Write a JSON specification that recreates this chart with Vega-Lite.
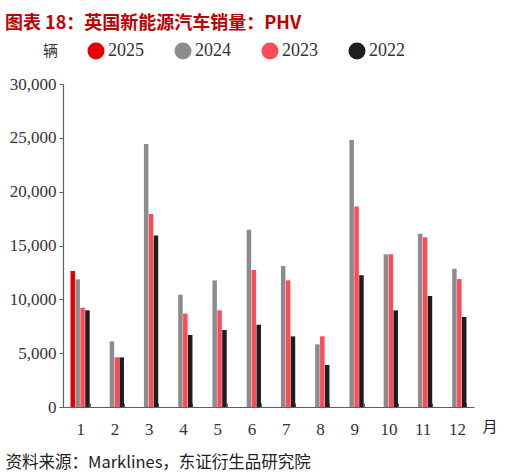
{
  "$schema": "https://vega.github.io/schema/vega-lite/v6.json",
  "autosize": "none",
  "width": 411,
  "height": 323,
  "padding": {"left": 63, "top": 84, "right": 43, "bottom": 68},
  "background": "white",
  "title": {
    "text": "图表 18：英国新能源汽车销量：PHV",
    "anchor": "start",
    "frame": "group",
    "dx": -58,
    "offset": 9,
    "color": "#c00000",
    "font": "Noto Sans CJK SC",
    "fontSize": 18,
    "fontWeight": "bold"
  },
  "data": {
    "values": [
      {"month": "1", "year": "2025", "sales": 12630},
      {"month": "1", "year": "2024", "sales": 11860},
      {"month": "1", "year": "2023", "sales": 9220},
      {"month": "1", "year": "2022", "sales": 8980},
      {"month": "2", "year": "2024", "sales": 6100},
      {"month": "2", "year": "2023", "sales": 4610},
      {"month": "2", "year": "2022", "sales": 4610},
      {"month": "3", "year": "2024", "sales": 24420},
      {"month": "3", "year": "2023", "sales": 17920},
      {"month": "3", "year": "2022", "sales": 15940},
      {"month": "4", "year": "2024", "sales": 10430},
      {"month": "4", "year": "2023", "sales": 8670},
      {"month": "4", "year": "2022", "sales": 6690},
      {"month": "5", "year": "2024", "sales": 11760},
      {"month": "5", "year": "2023", "sales": 8980},
      {"month": "5", "year": "2022", "sales": 7150},
      {"month": "6", "year": "2024", "sales": 16470},
      {"month": "6", "year": "2023", "sales": 12720},
      {"month": "6", "year": "2022", "sales": 7640},
      {"month": "7", "year": "2024", "sales": 13090},
      {"month": "7", "year": "2023", "sales": 11760},
      {"month": "7", "year": "2022", "sales": 6560},
      {"month": "8", "year": "2024", "sales": 5820},
      {"month": "8", "year": "2023", "sales": 6560},
      {"month": "8", "year": "2022", "sales": 3900},
      {"month": "9", "year": "2024", "sales": 24790},
      {"month": "9", "year": "2023", "sales": 18630},
      {"month": "9", "year": "2022", "sales": 12230},
      {"month": "10", "year": "2024", "sales": 14180},
      {"month": "10", "year": "2023", "sales": 14180},
      {"month": "10", "year": "2022", "sales": 8980},
      {"month": "11", "year": "2024", "sales": 16090},
      {"month": "11", "year": "2023", "sales": 15760},
      {"month": "11", "year": "2022", "sales": 10310},
      {"month": "12", "year": "2024", "sales": 12840},
      {"month": "12", "year": "2023", "sales": 11880},
      {"month": "12", "year": "2022", "sales": 8360}
    ]
  },
  "mark": {"type": "bar"},
  "encoding": {
    "x": {
      "field": "month",
      "type": "ordinal",
      "sort": ["1","2","3","4","5","6","7","8","9","10","11","12"],
      "scale": {"paddingInner": 0.44, "paddingOuter": 0.22},
      "axis": {
        "title": "月",
        "titleFont": "Noto Sans CJK SC",
        "titleFontSize": 15,
        "titleFontWeight": "normal",
        "titleColor": "#222222",
        "titleX": 419,
        "titleY": 24,
        "titleAlign": "left",
        "titleBaseline": "alphabetic",
        "labelAngle": 0,
        "labelFont": "Liberation Serif, serif",
        "labelFontSize": 17,
        "labelColor": "#333333",
        "labelPadding": 18,
        "domainColor": "#4a6868",
        "tickColor": "#4a6868",
        "tickBand": "extent",
        "tickSize": -4,
        "domainWidth": 1.2
      }
    },
    "xOffset": {
      "field": "year",
      "type": "nominal",
      "sort": ["2025","2024","2023","2022"],
      "scale": {"paddingInner": 0.08}
    },
    "y": {
      "field": "sales",
      "type": "quantitative",
      "scale": {"domain": [0, 30000]},
      "axis": {
        "title": "资料来源：Marklines，东证衍生品研究院",
        "titleAngle": 0,
        "titleAlign": "left",
        "titleBaseline": "alphabetic",
        "titleX": -58,
        "titleY": 383,
        "titleFont": "Noto Sans CJK SC",
        "titleFontSize": 16.5,
        "titleFontWeight": "normal",
        "titleColor": "#222222",
        "values": [0, 5000, 10000, 15000, 20000, 25000, 30000],
        "format": ",.0f",
        "grid": false,
        "labelFont": "Liberation Serif, serif",
        "labelFontSize": 17,
        "labelColor": "#333333",
        "labelPadding": 3,
        "domainColor": "#4a6868",
        "tickColor": "#4a6868",
        "tickSize": 4,
        "domainWidth": 1.2
      }
    },
    "color": {
      "field": "year",
      "type": "nominal",
      "sort": ["2025","2024","2023","2022"],
      "scale": {
        "domain": ["2025","2024","2023","2022"],
        "range": ["#e20000","#8c8c8c","#ff4a57","#1e1e1e"]
      },
      "legend": {
        "title": "辆",
        "orient": "none",
        "legendX": -20,
        "legendY": -42,
        "direction": "horizontal",
        "titleOrient": "left",
        "titleFont": "Noto Sans CJK SC",
        "titleFontSize": 15,
        "titleFontWeight": "normal",
        "titleColor": "#333333",
        "titlePadding": 28,
        "symbolType": "circle",
        "symbolSize": 290,
        "symbolStrokeWidth": 0,
        "labelFont": "Liberation Serif, serif",
        "labelFontSize": 18,
        "labelColor": "#333333",
        "labelOffset": 3,
        "columnPadding": 30
      }
    }
  },
  "config": {
    "view": {"stroke": null},
    "axis": {"ticks": true}
  }
}
